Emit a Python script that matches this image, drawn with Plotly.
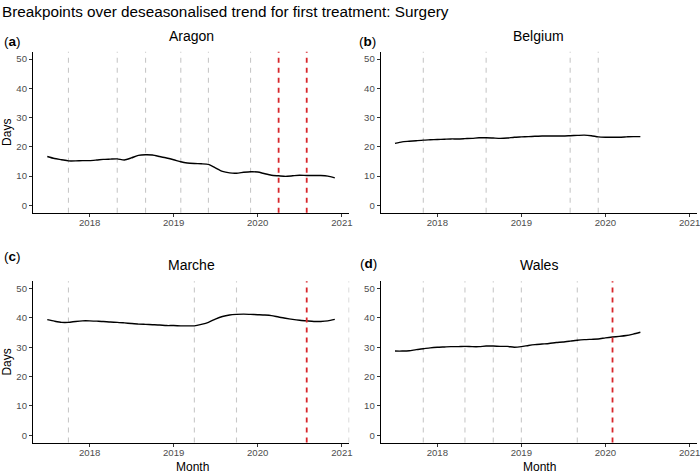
import pandas as pd
import plotly.graph_objects as go

# ---------------- data ----------------
panel_names = ["Aragon", "Belgium", "Marche", "Wales"]
panel_tags = ["a", "b", "c", "d"]

months_long = pd.date_range("2017-07-01", "2020-12-01", freq="MS")   # Aragon, Marche
months_short = pd.date_range("2017-07-01", "2020-06-01", freq="MS")  # Belgium, Wales

aragon_days = [16.7, 16.0, 15.6, 15.2, 15.2, 15.3,
               15.3, 15.5, 15.7, 15.8, 15.9, 15.5, 16.2, 17.1, 17.3, 17.2, 16.7, 16.2,
               15.6, 14.9, 14.5, 14.3, 14.2, 14.0, 12.8, 11.6, 11.1, 11.0, 11.3, 11.5,
               11.4, 10.8, 10.3, 10.1, 9.9, 10.1, 10.3, 10.2, 10.2, 10.2, 10.0, 9.4]
belgium_days = [21.2, 21.7, 21.9, 22.1, 22.3, 22.4,
                22.5, 22.6, 22.7, 22.7, 22.8, 22.9, 23.1, 23.1, 23.0, 22.9, 23.0, 23.3,
                23.4, 23.5, 23.6, 23.7, 23.7, 23.7, 23.7, 23.8, 23.9, 24.0, 23.8, 23.4,
                23.3, 23.3, 23.3, 23.4, 23.5, 23.5]
marche_days = [39.4, 38.9, 38.5, 38.5, 38.8, 39.0,
               39.0, 38.9, 38.8, 38.6, 38.5, 38.3, 38.1, 37.9, 37.8, 37.7, 37.6, 37.4,
               37.4, 37.3, 37.3, 37.3, 37.8, 38.5, 39.6, 40.5, 41.0, 41.2, 41.3, 41.2,
               41.1, 41.0, 40.8, 40.3, 39.9, 39.5, 39.2, 39.0, 38.8, 38.8, 39.0, 39.5]
wales_days = [28.7, 28.7, 28.8, 29.2, 29.5, 29.8,
              30.0, 30.1, 30.2, 30.2, 30.3, 30.2, 30.2, 30.4, 30.4, 30.3, 30.3, 30.0,
              30.2, 30.6, 30.9, 31.1, 31.3, 31.6, 31.8, 32.1, 32.4, 32.6, 32.7, 32.8,
              33.2, 33.5, 33.7, 34.0, 34.5, 35.1]

aragon_breaks = ["2017-10-01", "2018-05-01", "2018-09-01", "2019-02-01", "2019-06-01", "2019-12-01"]
aragon_breaks_main = ["2020-04-01", "2020-08-01"]
belgium_breaks = ["2017-11-01", "2018-08-01", "2019-08-01", "2019-12-01"]
belgium_breaks_main = []
marche_breaks = ["2017-10-01", "2019-04-01", "2019-10-01", "2021-02-01"]
marche_breaks_main = ["2020-08-01"]
wales_breaks = ["2017-11-01", "2018-05-01", "2018-09-01", "2019-01-01", "2019-09-01"]
wales_breaks_main = ["2020-02-01"]

x_tick_vals = ["2018-01-01", "2019-01-01", "2020-01-01", "2021-01-01"]
x_tick_text = ["2018", "2019", "2020", "2021"]
y_tick_vals = [0, 10, 20, 30, 40, 50]

series_x = [months_long, months_short, months_long, months_short]
series_y = [aragon_days, belgium_days, marche_days, wales_days]
breaks = [aragon_breaks, belgium_breaks, marche_breaks, wales_breaks]
breaks_main = [aragon_breaks_main, belgium_breaks_main, marche_breaks_main, wales_breaks_main]

# ---------------- layout geometry ----------------
W, H = 700, 473
x_domains = [[33 / W, 349.3 / W], [380.7 / W, 697 / W]] * 2
y_domains = [[1 - 212.7 / H, 1 - 51.7 / H]] * 2 + [[1 - 442.5 / H, 1 - 281.3 / H]] * 2

FONT = "Liberation Sans, Arial, Helvetica, sans-serif"
TICK_COLOR = "#4d4d4d"

fig = go.Figure()
shapes = []
annotations = []

for i in range(4):
    suffix = "" if i == 0 else str(i + 1)
    xa, ya = "x" + suffix, "y" + suffix
    fig.add_trace(go.Scatter(
        x=series_x[i], y=series_y[i], mode="lines",
        line=dict(color="black", width=1.4, shape="spline", smoothing=0.6),
        xaxis=xa, yaxis=ya, showlegend=False, hoverinfo="x+y"))
    for b in breaks[i]:
        shapes.append(dict(type="line", xref=xa, yref=ya + " domain", x0=b, x1=b, y0=0, y1=1,
                           line=dict(color="#c8c8c8", width=1.1, dash="5px,5px"), layer="below"))
    for b in breaks_main[i]:
        shapes.append(dict(type="line", xref=xa, yref=ya + " domain", x0=b, x1=b, y0=0, y1=1,
                           line=dict(color="#d7262b", width=1.8, dash="5px,5px"), layer="above"))
    axis_common = dict(showline=True, linecolor="black", linewidth=1.1, ticks="outside",
                       ticklen=3, tickwidth=1, tickcolor="#333333", showgrid=False,
                       zeroline=False, automargin=False,
                       tickfont=dict(family=FONT, size=9.6, color=TICK_COLOR))
    fig.update_layout(**{
        "xaxis" + suffix: dict(axis_common, type="date", domain=x_domains[i], anchor=ya,
                               range=["2017-04-30", "2021-02-02"],
                               tickvals=x_tick_vals, ticktext=x_tick_text,
                               ticklabeloverflow="allow", ticklabelstandoff=-2),
        "yaxis" + suffix: dict(axis_common, domain=y_domains[i], anchor=xa,
                               range=[-2.5, 52.5], tickvals=y_tick_vals),
    })
    # panel title
    xc = (x_domains[i][0] + x_domains[i][1]) / 2
    title_y = 36.5 if i < 2 else 265
    annotations.append(dict(text=panel_names[i], x=xc, y=1 - title_y / H, xref="paper", yref="paper",
                            xanchor="center", yanchor="middle", showarrow=False,
                            font=dict(family=FONT, size=14, color="black")))

# panel tags
tag_pos = [(1.7, 41.7), (357, 41.7), (2.3, 256.7), (358, 263.3)]
for tag, (px, py) in zip(panel_tags, tag_pos):
    annotations.append(dict(text="(<b>" + tag + "</b>)", x=px / W, y=1 - py / H, xref="paper", yref="paper",
                            xanchor="left", yanchor="middle", showarrow=False,
                            font=dict(family=FONT, size=13.5, color="black")))

# axis titles
for yd in (y_domains[0], y_domains[2]):
    annotations.append(dict(text="Days", x=6.7 / W, y=(yd[0] + yd[1]) / 2, xref="paper", yref="paper",
                            xanchor="center", yanchor="middle", textangle=-90, showarrow=False,
                            font=dict(family=FONT, size=12, color="black")))
for xd in (x_domains[2], x_domains[3]):
    annotations.append(dict(text="Month", x=(xd[0] + xd[1]) / 2 + 1 / W, y=1 - 466.5 / H, xref="paper", yref="paper",
                            xanchor="center", yanchor="middle", showarrow=False,
                            font=dict(family=FONT, size=12, color="black")))

fig.update_layout(
    width=W, height=H,
    margin=dict(l=0, r=0, t=0, b=0),
    paper_bgcolor="white", plot_bgcolor="white",
    title=dict(text="Breakpoints over deseasonalised trend for first treatment: Surgery",
               x=2 / W, xanchor="left", xref="paper", y=1 - 12 / H, yanchor="middle", yref="paper",
               font=dict(family=FONT, size=15.3, color="black")),
    shapes=shapes, annotations=annotations,
    showlegend=False,
)

fig.write_html("out.html")
